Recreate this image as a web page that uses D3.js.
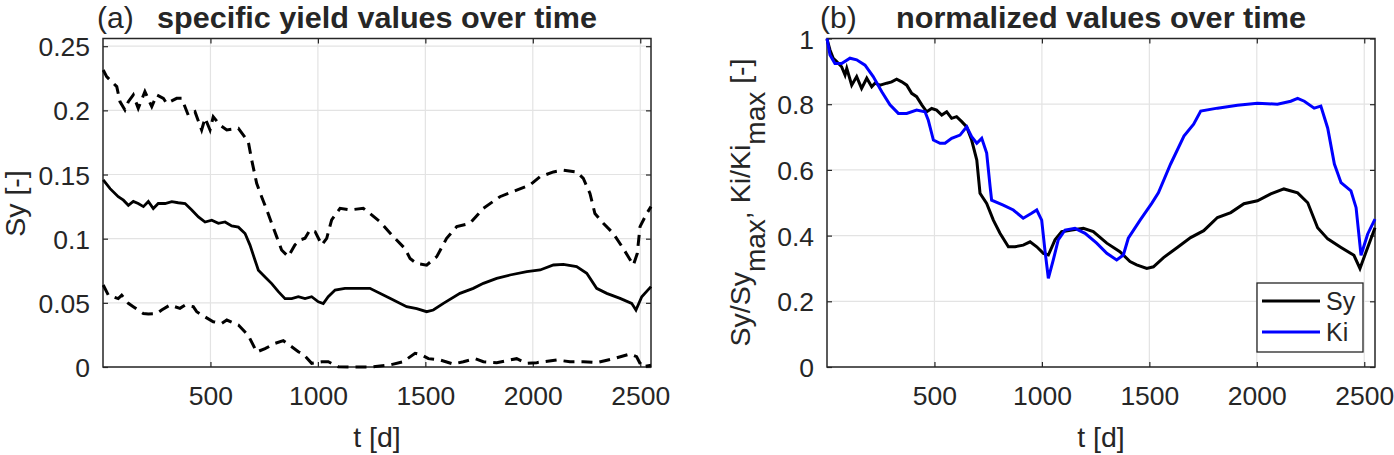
<!DOCTYPE html>
<html>
<head>
<meta charset="utf-8">
<script src="https://cdn.jsdelivr.net/npm/d3@7"></script>
<style>
  html, body { margin: 0; padding: 0; background: #fff; }
  svg { display: block; }
  text { font-family: "Liberation Sans", Arial, Helvetica, sans-serif; fill: #262626; }
</style>
</head>
<body>
<svg id="chart" width="1394" height="455"></svg>
<script>
// ---------------- DATA ----------------
const xTicks = [500, 1000, 1500, 2000, 2500];
const yTicksA = [0, 0.05, 0.1, 0.15, 0.2, 0.25];
const yTickLabelsA = ["0", "0.05", "0.1", "0.15", "0.2", "0.25"];
const yTicksB = [0, 0.2, 0.4, 0.6, 0.8, 1];
const yTickLabelsB = ["0", "0.2", "0.4", "0.6", "0.8", "1"];

// Panel (a): upper (dashed)
const tUpper = [1, 17, 40, 64, 79, 102, 118, 141, 164, 195, 227, 250, 281, 296, 343, 366, 397, 428, 459, 475, 498, 513, 544, 576, 630, 676, 692, 715, 738, 762, 785, 808, 831, 862, 893, 917, 940, 963, 987, 1018, 1041, 1064, 1103, 1149, 1211, 1242, 1289, 1351, 1405, 1429, 1460, 1506, 1553, 1599, 1646, 1708, 1770, 1847, 1925, 1987, 2034, 2096, 2142, 2204, 2235, 2266, 2289, 2328, 2375, 2421, 2468, 2486, 2499, 2530, 2550];
const syUpper = [0.2315, 0.2263, 0.2224, 0.2185, 0.2068, 0.2003, 0.2068, 0.212, 0.2016, 0.2146, 0.2029, 0.212, 0.2094, 0.2055, 0.2094, 0.2094, 0.1962, 0.199, 0.1847, 0.194, 0.1847, 0.195, 0.1886, 0.1847, 0.186, 0.1756, 0.1613, 0.1432, 0.1327, 0.1224, 0.112, 0.1016, 0.0912, 0.086, 0.0951, 0.099, 0.1003, 0.1068, 0.1055, 0.0951, 0.1003, 0.1146, 0.1237, 0.1224, 0.1237, 0.1196, 0.1132, 0.1016, 0.0923, 0.0845, 0.0806, 0.0794, 0.086, 0.1003, 0.1094, 0.112, 0.1237, 0.1327, 0.1378, 0.1418, 0.1483, 0.152, 0.1534, 0.152, 0.147, 0.1352, 0.1196, 0.112, 0.104, 0.0923, 0.0794, 0.0884, 0.1094, 0.1196, 0.125];

// Panel (a): mean (solid)
const tMean = [1, 33, 71, 95, 118, 141, 164, 188, 211, 234, 257, 289, 320, 350, 382, 413, 444, 475, 506, 537, 568, 599, 630, 661, 684, 707, 723, 754, 785, 816, 847, 878, 909, 940, 971, 1002, 1025, 1048, 1080, 1126, 1173, 1242, 1335, 1413, 1460, 1506, 1537, 1584, 1661, 1723, 1770, 1832, 1894, 1972, 2034, 2096, 2142, 2204, 2251, 2297, 2344, 2406, 2460, 2480, 2507, 2550];
const syMean = [0.1458, 0.139, 0.1327, 0.130, 0.126, 0.129, 0.1274, 0.125, 0.129, 0.1235, 0.1274, 0.1274, 0.1288, 0.128, 0.1274, 0.1224, 0.117, 0.113, 0.1144, 0.112, 0.113, 0.110, 0.109, 0.104, 0.095, 0.0834, 0.0754, 0.0702, 0.065, 0.0587, 0.0533, 0.0533, 0.0548, 0.0533, 0.0548, 0.0508, 0.0494, 0.0548, 0.060, 0.0613, 0.0613, 0.0613, 0.0535, 0.047, 0.0455, 0.0431, 0.0444, 0.0496, 0.0574, 0.0613, 0.0652, 0.0691, 0.0717, 0.0743, 0.0756, 0.0795, 0.080, 0.0782, 0.073, 0.0613, 0.0574, 0.0535, 0.0496, 0.0444, 0.0548, 0.0626];

// Panel (a): lower (dashed)
const tLower = [1, 25, 71, 87, 118, 141, 188, 211, 250, 273, 312, 358, 382, 420, 436, 475, 513, 552, 576, 630, 676, 715, 754, 800, 839, 878, 909, 932, 971, 1018, 1048, 1095, 1157, 1242, 1335, 1397, 1452, 1483, 1514, 1568, 1630, 1677, 1731, 1770, 1832, 1925, 1972, 2018, 2111, 2173, 2235, 2297, 2375, 2452, 2483, 2507, 2550];
const syLower = [0.0639, 0.056, 0.0533, 0.056, 0.0496, 0.047, 0.0416, 0.0413, 0.0416, 0.0444, 0.0483, 0.0457, 0.0483, 0.047, 0.0431, 0.039, 0.0353, 0.034, 0.0366, 0.0327, 0.0247, 0.0117, 0.0143, 0.0184, 0.0205, 0.0158, 0.0119, 0.010, 0.0029, 0.0041, 0.0041, 0.0002, 0.0, 0.0, 0.0016, 0.0041, 0.0107, 0.0094, 0.0065, 0.0055, 0.0023, 0.0041, 0.0065, 0.0041, 0.0034, 0.0065, 0.0029, 0.0034, 0.0055, 0.0041, 0.0041, 0.0034, 0.0065, 0.0101, 0.008, 0.0002, 0.0013];

// Panel (b): normalized Sy (black)
const tSyN = [0, 14, 29, 45, 68, 84, 92, 115, 138, 161, 185, 208, 223, 247, 278, 301, 324, 348, 371, 394, 417, 441, 464, 487, 510, 534, 557, 580, 603, 627, 650, 673, 697, 712, 743, 774, 805, 844, 875, 913, 945, 976, 1007, 1030, 1061, 1092, 1139, 1193, 1239, 1302, 1363, 1410, 1441, 1488, 1519, 1566, 1630, 1692, 1753, 1817, 1879, 1940, 2003, 2065, 2126, 2190, 2237, 2283, 2330, 2392, 2452, 2480, 2516, 2550];
const syNorm = [0.998, 0.965, 0.94, 0.93, 0.914, 0.889, 0.909, 0.858, 0.884, 0.848, 0.879, 0.853, 0.864, 0.858, 0.864, 0.868, 0.876, 0.868, 0.858, 0.833, 0.823, 0.798, 0.777, 0.787, 0.782, 0.767, 0.777, 0.757, 0.762, 0.747, 0.731, 0.691, 0.630, 0.529, 0.498, 0.447, 0.407, 0.366, 0.366, 0.371, 0.381, 0.366, 0.346, 0.341, 0.387, 0.412, 0.417, 0.422, 0.412, 0.377, 0.351, 0.321, 0.311, 0.30, 0.305, 0.333, 0.364, 0.394, 0.415, 0.455, 0.47, 0.497, 0.506, 0.527, 0.542, 0.53, 0.50, 0.424, 0.39, 0.364, 0.34, 0.30, 0.364, 0.424];

// Panel (b): normalized Ki (blue)
const tKiN = [0, 14, 37, 68, 107, 138, 177, 215, 255, 293, 332, 371, 417, 456, 471, 495, 526, 549, 580, 619, 650, 673, 697, 720, 743, 759, 766, 820, 867, 913, 952, 976, 999, 1014, 1030, 1053, 1076, 1108, 1154, 1201, 1255, 1302, 1348, 1379, 1402, 1457, 1511, 1542, 1599, 1661, 1706, 1739, 1817, 1910, 2003, 2096, 2158, 2190, 2221, 2267, 2298, 2330, 2361, 2392, 2438, 2462, 2485, 2516, 2550];
const kiNorm = [1.0, 0.95, 0.924, 0.924, 0.94, 0.935, 0.919, 0.884, 0.838, 0.798, 0.772, 0.772, 0.782, 0.777, 0.752, 0.691, 0.681, 0.681, 0.696, 0.706, 0.731, 0.701, 0.681, 0.696, 0.651, 0.549, 0.508, 0.493, 0.478, 0.453, 0.468, 0.478, 0.447, 0.356, 0.27, 0.326, 0.387, 0.417, 0.422, 0.407, 0.377, 0.346, 0.326, 0.341, 0.392, 0.447, 0.498, 0.53, 0.618, 0.703, 0.739, 0.779, 0.788, 0.797, 0.803, 0.80, 0.809, 0.818, 0.809, 0.788, 0.794, 0.727, 0.618, 0.561, 0.536, 0.485, 0.34, 0.405, 0.45];

const legendLabels = ["Sy", "Ki"];
const seriesColors = ["#000000", "#0000ff"];

// ---------------- DRAW ----------------
const svg = d3.select("#chart");
const TOP = 38.5, BOTTOM = 367;
const GRID = "#e3e3e3", AX = "#262626";

function zip(ts, vs) { return ts.map((t, i) => [t, vs[i]]); }

function panel(x0, x1, yMax, yTicks, yLabels) {
  const x = d3.scaleLinear().domain([0, 2550]).range([x0, x1]);
  const y = d3.scaleLinear().domain([0, yMax]).range([BOTTOM, TOP]);
  const g = svg.append("g");
  g.selectAll(".gx").data(xTicks).join("line")
    .attr("x1", d => x(d)).attr("x2", d => x(d)).attr("y1", TOP).attr("y2", BOTTOM)
    .attr("stroke", GRID).attr("stroke-width", 1.2);
  g.selectAll(".gy").data(yTicks).join("line")
    .attr("x1", x0).attr("x2", x1).attr("y1", d => y(d)).attr("y2", d => y(d))
    .attr("stroke", GRID).attr("stroke-width", 1.2);
  const ax = d3.axisBottom(x).tickValues(xTicks).tickFormat(d3.format("d")).tickSize(-5).tickPadding(19.5);
  const gx = g.append("g").attr("transform", `translate(0,${BOTTOM})`).call(ax);
  const gxt = g.append("g").attr("transform", `translate(0,${TOP})`).call(d3.axisTop(x).tickValues(xTicks).tickSize(-5).tickFormat(""));
  const ay = d3.axisLeft(y).tickValues(yTicks).tickFormat((d, i) => yLabels[i]).tickSize(-5).tickPadding(13);
  const gy = g.append("g").attr("transform", `translate(${x0},0)`).call(ay);
  const gyr = g.append("g").attr("transform", `translate(${x1},0)`).call(d3.axisRight(y).tickValues(yTicks).tickSize(-5).tickFormat(""));
  [gx, gxt, gy, gyr].forEach(a => {
    a.select(".domain").remove();
    a.selectAll(".tick line").attr("stroke", AX).attr("stroke-width", 1.2);
    a.selectAll("text").attr("font-size", 26.5).attr("fill", AX)
      .attr("font-family", '"Liberation Sans", Arial, sans-serif');
  });
  gy.selectAll("text").attr("dy", "0.36em");
  g.append("rect").attr("x", x0).attr("y", TOP).attr("width", x1 - x0).attr("height", BOTTOM - TOP)
    .attr("fill", "none").attr("stroke", AX).attr("stroke-width", 1.5);
  return { x, y, g };
}

// Panel (a)
const A = panel(103, 651, 0.256, yTicksA, yTickLabelsA);
const lineA = d3.line().x(d => A.x(d[0])).y(d => A.y(d[1]));
A.g.append("path").datum(zip(tUpper, syUpper)).attr("d", lineA)
  .attr("fill", "none").attr("stroke", "#000").attr("stroke-width", 3).attr("stroke-dasharray", "11,7");
A.g.append("path").datum(zip(tMean, syMean)).attr("d", lineA)
  .attr("fill", "none").attr("stroke", "#000").attr("stroke-width", 2.8);
A.g.append("path").datum(zip(tLower, syLower)).attr("d", lineA)
  .attr("fill", "none").attr("stroke", "#000").attr("stroke-width", 3).attr("stroke-dasharray", "11,7");

// Panel (b)
const B = panel(827, 1375, 1, yTicksB, yTickLabelsB);
const lineB = d3.line().x(d => B.x(d[0])).y(d => B.y(d[1]));
B.g.append("path").datum(zip(tSyN, syNorm)).attr("d", lineB)
  .attr("fill", "none").attr("stroke", seriesColors[0]).attr("stroke-width", 3);
B.g.append("path").datum(zip(tKiN, kiNorm)).attr("d", lineB)
  .attr("fill", "none").attr("stroke", seriesColors[1]).attr("stroke-width", 3);

// Legend
const lg = svg.append("g");
lg.append("rect").attr("x", 1257).attr("y", 283).attr("width", 106).attr("height", 69)
  .attr("fill", "#fff").attr("stroke", AX).attr("stroke-width", 1.3);
legendLabels.forEach((lab, i) => {
  const ly = 301 + i * 31;
  lg.append("line").attr("x1", 1262).attr("x2", 1320).attr("y1", ly).attr("y2", ly)
    .attr("stroke", seriesColors[i]).attr("stroke-width", 3);
  lg.append("text").attr("x", 1326).attr("y", ly + 9).attr("font-size", 25).text(lab);
});

// Titles
svg.append("text").attr("x", 97).attr("y", 28).attr("font-size", 30).text("(a)");
svg.append("text").attr("x", 377).attr("y", 28).attr("font-size", 30).attr("font-weight", "bold")
  .attr("text-anchor", "middle").attr("textLength", 440).attr("lengthAdjust", "spacingAndGlyphs")
  .text("specific yield values over time");
svg.append("text").attr("x", 820).attr("y", 28).attr("font-size", 30).text("(b)");
svg.append("text").attr("x", 1101).attr("y", 28).attr("font-size", 30).attr("font-weight", "bold")
  .attr("text-anchor", "middle").attr("textLength", 410).attr("lengthAdjust", "spacingAndGlyphs")
  .text("normalized values over time");

// Axis labels
svg.append("text").attr("x", 377).attr("y", 447).attr("font-size", 28.5).attr("text-anchor", "middle").text("t [d]");
svg.append("text").attr("x", 1101).attr("y", 447).attr("font-size", 28.5).attr("text-anchor", "middle").text("t [d]");
svg.append("text").attr("transform", "translate(25,203.5) rotate(-90)").attr("font-size", 28.5)
  .attr("text-anchor", "middle").text("Sy [-]");
const yl = svg.append("text").attr("transform", "translate(750,202.5) rotate(-90)").attr("font-size", 28.5)
  .attr("text-anchor", "middle");
yl.append("tspan").text("Sy/Sy");
yl.append("tspan").attr("dy", 15).attr("font-size", 28).text("max");
yl.append("tspan").attr("dy", -15).text(", Ki/Ki");
yl.append("tspan").attr("dy", 15).attr("font-size", 28).text("max");
yl.append("tspan").attr("dy", -15).text(" [-]");
</script>
</body>
</html>
